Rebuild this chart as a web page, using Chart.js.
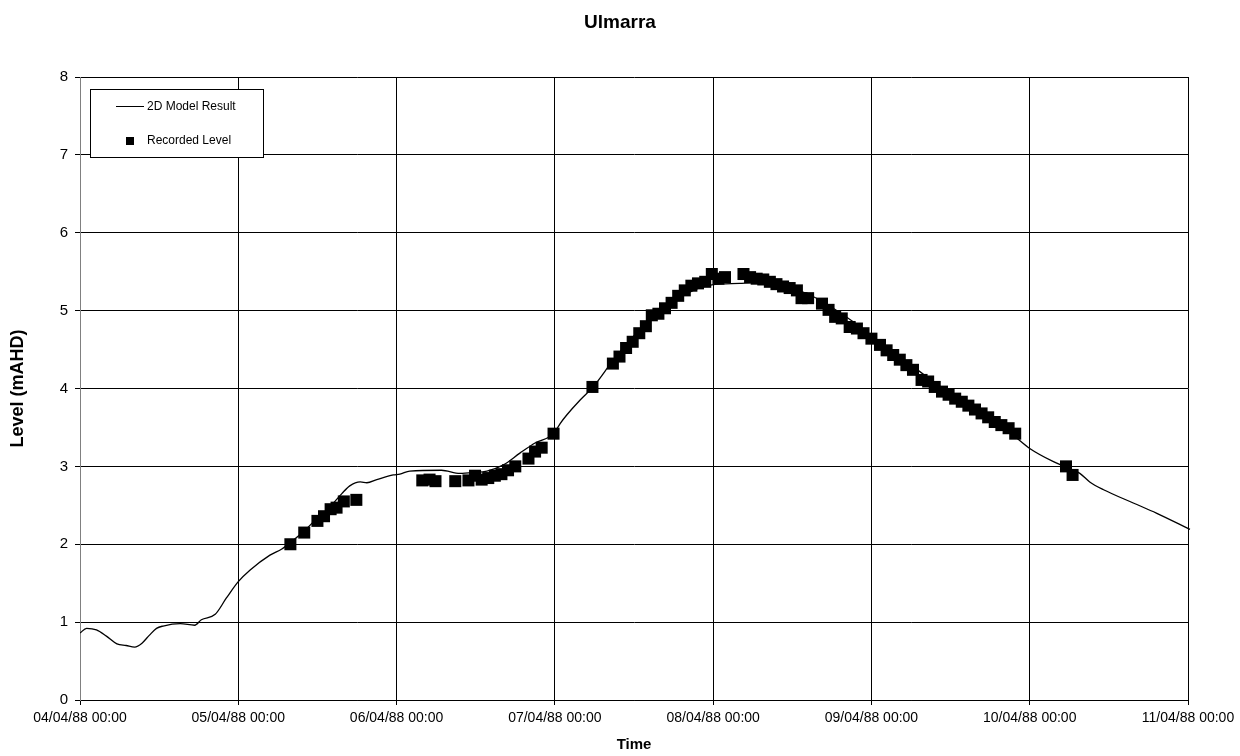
<!DOCTYPE html>
<html>
<head>
<meta charset="utf-8">
<title>Ulmarra</title>
<script src="https://cdn.jsdelivr.net/npm/chart.js@4.4.0/dist/chart.umd.min.js"></script>
<style>
  body { margin: 0; background: #fff; }
  canvas { display: block; }
</style>
</head>
<body>
<canvas id="chart" width="1240" height="756"></canvas>
<script>
// time in hours from 04/04/88 00:00
const xTickLabels = ['04/04/88 00:00', '05/04/88 00:00', '06/04/88 00:00', '07/04/88 00:00',
  '08/04/88 00:00', '09/04/88 00:00', '10/04/88 00:00', '11/04/88 00:00'];

// 2D Model Result
const modelHours = [0, 1, 2.5, 4, 5.6, 7, 8.3, 9.4, 10.5, 11.6, 12.6, 15.2, 17.4, 18.4, 20.5, 22.2,
  24, 25.8, 28.8, 30.6, 32.3, 34, 35.9, 37.9, 39.7, 40.9, 42.5, 43.5, 45, 47.5, 48.5, 50,
  54.8, 57.6, 59.6, 61.7, 64.2, 66.7, 69, 71.8, 72.8, 73.8, 75.8, 77.8, 80.9, 83.9, 86.9, 90,
  93, 95.8, 100, 103.1, 106.1, 110.2, 114.2, 118.3, 120.8, 126, 132, 138, 141.5, 144, 147.6,
  149.5, 151.6, 153.1, 155.2, 159.7, 163.2, 168.3];
const modelLevel = [0.86, 0.92, 0.90, 0.82, 0.72, 0.70, 0.68, 0.73, 0.83, 0.92, 0.95, 0.98, 0.96, 1.03, 1.10, 1.31,
  1.52, 1.67, 1.86, 1.94, 2.05, 2.17, 2.33, 2.48, 2.65, 2.75, 2.80, 2.79, 2.83, 2.89, 2.90, 2.94,
  2.95, 2.91, 2.92, 2.94, 3.02, 3.17, 3.30, 3.42, 3.55, 3.66, 3.85, 4.02, 4.37, 4.67, 4.92, 5.11,
  5.26, 5.33, 5.35, 5.36, 5.31, 5.22, 5.03, 4.79, 4.62, 4.30, 3.93, 3.60, 3.40, 3.23, 3.06,
  2.99, 2.91, 2.80, 2.70, 2.53, 2.40, 2.19];

// Recorded Level
const recHours = [31.9, 34, 36, 37, 38, 38.9, 40, 41.9,
  51.9, 53, 53.9, 56.9, 58.9, 59.9, 60.9, 61.9, 62.9, 63.9, 64.9, 66, 68, 69, 70, 71.8,
  77.7, 80.8, 81.8, 82.8, 83.8, 84.8, 85.8, 86.7, 87.7, 88.7, 89.7, 90.7, 91.7, 92.7, 93.7, 94.8,
  95.8, 96.8, 97.8, 100.6, 101.6, 102.6, 103.6, 104.6, 105.6, 106.6, 107.6, 108.7, 109.4, 110.4,
  112.5, 113.5, 114.5, 115.5, 116.7, 117.8, 118.8, 120, 121.3, 122.3, 123.3, 124.3, 125.3, 126.3,
  127.6, 128.6, 129.6, 130.7, 131.7, 132.7, 133.7, 134.7, 135.7, 136.7, 137.7, 138.7, 139.7, 140.8,
  141.8, 149.5, 150.5];
const recLevel = [2.00, 2.15, 2.30, 2.36, 2.45, 2.47, 2.55, 2.57,
  2.82, 2.83, 2.81, 2.81, 2.82, 2.88, 2.83, 2.85, 2.88, 2.90, 2.95, 3.00, 3.10, 3.19, 3.24, 3.42,
  4.02, 4.32, 4.41, 4.52, 4.60, 4.71, 4.80, 4.94, 4.96, 5.03, 5.10, 5.19, 5.26, 5.32, 5.35, 5.37,
  5.47, 5.41, 5.43, 5.47, 5.43, 5.41, 5.40, 5.37, 5.34, 5.31, 5.29, 5.26, 5.16, 5.16,
  5.09, 5.01, 4.92, 4.90, 4.79, 4.77, 4.71, 4.64, 4.56, 4.49, 4.43, 4.37, 4.30, 4.24,
  4.11, 4.09, 4.02, 3.96, 3.92, 3.87, 3.83, 3.78, 3.73, 3.68, 3.63, 3.57, 3.53, 3.49,
  3.42, 3.00, 2.89];

const FONT = "'Liberation Sans', Arial, sans-serif";

// legend drawn as a box inside the plot, like the original
const boxLegend = {
  id: 'boxLegend',
  afterDraw(chart) {
    const ctx = chart.ctx;
    const a = chart.chartArea;
    const x = a.left + 10, y = a.top + 12, w = 173, h = 68;
    ctx.save();
    ctx.fillStyle = '#fff';
    ctx.fillRect(x, y, w, h);
    ctx.strokeStyle = '#000';
    ctx.lineWidth = 1;
    ctx.strokeRect(x + 0.5, y + 0.5, w, h);
    ctx.beginPath();
    ctx.moveTo(x + 26, y + 17.5);
    ctx.lineTo(x + 54, y + 17.5);
    ctx.stroke();
    ctx.fillStyle = '#000';
    ctx.fillRect(x + 36, y + 48, 8, 8);
    ctx.font = '12px ' + FONT;
    ctx.textBaseline = 'middle';
    ctx.fillText(chart.data.datasets[0].label, x + 57, y + 18);
    ctx.fillText(chart.data.datasets[1].label, x + 57, y + 52);
    ctx.restore();
  }
};

new Chart(document.getElementById('chart'), {
  type: 'scatter',
  data: {
    datasets: [{
      label: '2D Model Result',
      data: modelHours.map((h, i) => ({ x: h, y: modelLevel[i] })),
      showLine: true,
      borderColor: '#000',
      borderWidth: 1.3,
      pointRadius: 0,
      cubicInterpolationMode: 'monotone',
      clip: { left: 0, top: 0, right: 3, bottom: 0 }
    }, {
      label: 'Recorded Level',
      data: recHours.map((h, i) => ({ x: h, y: recLevel[i] })),
      showLine: false,
      pointStyle: 'rect',
      pointRadius: 8.5,
      borderWidth: 0,
      backgroundColor: '#000',
      borderColor: '#000'
    }]
  },
  options: {
    responsive: false,
    devicePixelRatio: 1,
    animation: false,
    layout: { padding: 0 },
    plugins: {
      legend: { display: false },
      tooltip: { enabled: false },
      title: {
        display: true,
        text: 'Ulmarra',
        color: '#000',
        font: { family: FONT, size: 19, weight: 'bold' },
        padding: { top: 11, bottom: 43.2 }
      }
    },
    scales: {
      x: {
        type: 'linear',
        min: 0,
        max: 168,
        afterFit(scale) { scale.height = 56; },
        grid: { color: '#000', lineWidth: 1, tickLength: 5, tickColor: '#000' },
        border: { color: '#000' },
        ticks: {
          stepSize: 24,
          autoSkip: false,
          maxRotation: 0,
          padding: 5,
          color: '#000',
          font: { family: FONT, size: 14 },
          callback: v => xTickLabels[v / 24]
        },
        title: {
          display: true,
          text: 'Time',
          color: '#000',
          font: { family: FONT, size: 15, weight: 'bold' },
          padding: { top: 0, bottom: 2 }
        }
      },
      y: {
        min: 0,
        max: 8,
        afterFit(scale) { scale.width = 80; },
        grid: { color: '#000', lineWidth: 1, tickLength: 5, tickColor: '#000' },
        border: { color: '#808080' },
        ticks: {
          stepSize: 1,
          padding: 7,
          color: '#000',
          font: { family: FONT, size: 15 }
        },
        title: {
          display: true,
          text: 'Level (mAHD)',
          color: '#000',
          font: { family: FONT, size: 18, weight: 'bold' },
          padding: { top: 7, bottom: 0 }
        }
      },
      // empty right-hand margin so the title centres on the whole page
      yRight: {
        position: 'right',
        afterFit(scale) { scale.width = 52; },
        grid: { display: false },
        border: { display: false },
        ticks: { display: false }
      }
    }
  },
  plugins: [boxLegend]
});
</script>
</body>
</html>
